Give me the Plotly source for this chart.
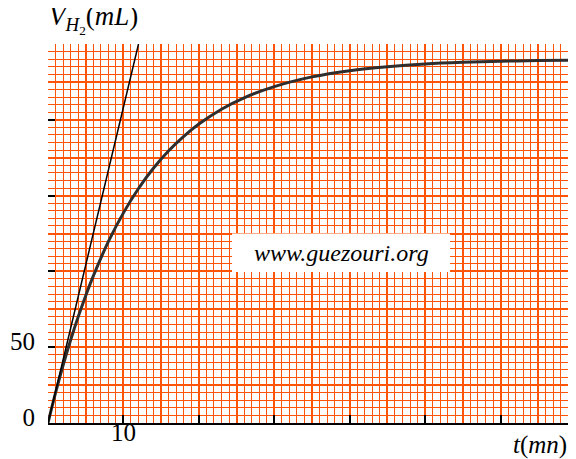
import plotly.graph_objects as go

# Data
t_curve = [0, 1, 2, 3, 4, 5, 6, 8, 10, 12, 14, 16, 18, 20, 23, 26, 30, 35, 40, 45, 50, 55, 60, 65, 70]
v_curve = [0, 19.8, 38.0, 54.7, 70.0, 84.0, 96.9, 119.6, 138.6, 154.7, 168.2, 179.6, 189.1, 197.2,
           207.0, 214.5, 221.9, 228.3, 232.4, 235.0, 236.8, 237.9, 238.6, 239.1, 239.3]
t_tangent = [0, 12.0]
v_tangent = [0, 250]

x_tickvals = [0, 10, 20, 30, 40, 50, 60, 70]
x_ticktext = ["", "10", "", "", "", "", "", ""]
y_tickvals = [0, 50, 100, 150, 200, 250]
y_ticktext = ["0", "50", "", "", "", ""]

watermark = "www.guezouri.org"
y_title = "<i>V</i><sub><i>H</i><sub>2</sub></sub>(<i>mL</i>)"
x_title = "<i>t</i>(<i>mn</i>)"

GRID = "rgb(255,84,6)"
FONT = "Liberation Serif"

fig = go.Figure()
fig.add_trace(go.Scatter(x=t_curve, y=v_curve, mode="lines", line=dict(color="#2e2e2e", width=3, shape="spline"),
                         hoverinfo="skip", showlegend=False))
fig.add_trace(go.Scatter(x=t_tangent, y=v_tangent, mode="lines", line=dict(color="black", width=1.5),
                         hoverinfo="skip", showlegend=False))
# invisible trace that carries the tick axes
fig.add_trace(go.Scatter(x=[0], y=[0], xaxis="x2", yaxis="y2", mode="markers", marker=dict(opacity=0),
                         hoverinfo="skip", showlegend=False))

fig.update_layout(
    template="none",
    width=568, height=451,
    margin=dict(l=40, r=0, t=36, b=36),
    paper_bgcolor="white", plot_bgcolor="white",
    font=dict(family=FONT, color="black", size=25),
    showlegend=False,
    xaxis=dict(range=[0, 70], tick0=0, dtick=5, showgrid=True, gridcolor=GRID, gridwidth=2,
               minor=dict(tick0=0, dtick=1, showgrid=True, gridcolor=GRID, gridwidth=1.4),
               ticks="", showticklabels=False, zeroline=False, showline=True,
               linecolor="black", linewidth=2),
    yaxis=dict(range=[0, 250], tick0=0, dtick=25, showgrid=True, gridcolor=GRID, gridwidth=2,
               minor=dict(tick0=0, dtick=5, showgrid=True, gridcolor=GRID, gridwidth=1.4),
               ticks="", showticklabels=False, zeroline=False, showline=False),
    xaxis2=dict(range=[0, 70], overlaying="x", anchor="y2", side="bottom", tickvals=x_tickvals,
                ticktext=x_ticktext, ticks="inside", ticklen=8, tickwidth=2, tickcolor="black",
                showgrid=False, zeroline=False, showline=False, ticklabelstandoff=-8,
                tickfont=dict(size=25, family=FONT)),
    yaxis2=dict(range=[0, 250], overlaying="y", anchor="x2", side="left", tickvals=y_tickvals,
                ticktext=y_ticktext, ticks="inside", ticklen=7, tickwidth=2, tickcolor="black",
                showgrid=False, zeroline=False, showline=False, ticklabelshift=-6, ticklabelstandoff=12,
                tickfont=dict(size=25, family=FONT)),
)

fig.add_shape(type="rect", xref="x", yref="y", x0=24.4, x1=53.3, y0=99.6, y1=125,
              fillcolor="white", line=dict(width=0), layer="above")
fig.add_annotation(x=38.85, y=112.3, xref="x", yref="y", text="<i>" + watermark + "</i>", showarrow=False,
                   font=dict(size=24, family=FONT, color="black"))
fig.add_annotation(x=-1 / 528, y=1.064, xref="paper", yref="paper", text=y_title, showarrow=False,
                   xanchor="left", yanchor="middle", font=dict(size=27, family=FONT))
fig.add_annotation(x=(569 - 48) / 528, y=-0.059, xref="paper", yref="paper", text=x_title, showarrow=False,
                   xanchor="right", yanchor="middle", font=dict(size=25, family=FONT))

fig.write_html("out.html")
